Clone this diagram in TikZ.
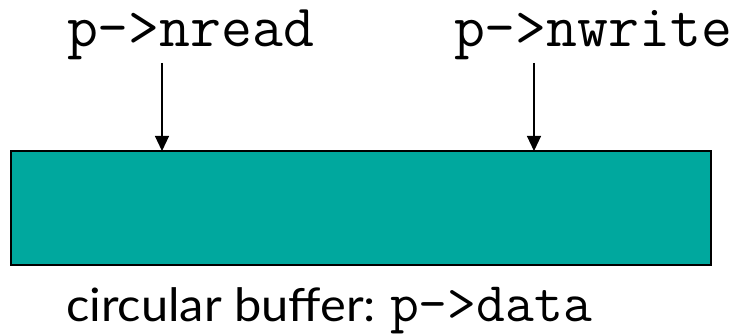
\documentclass[tikz,border=0pt]{standalone}
\usepackage{fontspec}
\setmainfont{Lato}
\usetikzlibrary{arrows.meta}
\definecolor{buffill}{RGB}{0,168,158}
\tikzset{
  lbl/.style={inner sep=0pt, outer sep=0pt, anchor=base west},
  ptr/.style={line width=1.2pt, -{Triangle[length=15pt,width=14pt]}},
  bufbox/.style={draw=black, line width=1.6pt, fill=buffill}
}
\begin{document}
\begin{tikzpicture}[x=1pt,y=-1pt]
  \useasboundingbox (0,0) rectangle (747,336);
  % circular buffer
  \draw[bufbox] (11,151) rectangle (711,265);
  \coordinate (rd) at (162,151);
  \coordinate (wr) at (534,151);
  % pointer labels
  \node[lbl, font=\ttfamily\fontsize{60}{66}\selectfont] (nread) at (67,47) {p->nread};
  \node[lbl, font=\ttfamily\fontsize{60}{66}\selectfont] (nwrite) at (454,47) {p->nwrite};
  \coordinate (rdtop) at (162,63);
  \coordinate (wrtop) at (534,63);
  \draw[ptr] (rdtop) -- (rd);
  \draw[ptr] (wrtop) -- (wr);
  % caption
  \node[lbl, font=\fontsize{46}{52}\selectfont] (cap) at (66,322) {\scalebox{1.06}[1]{circular buffer:}};
  \node[lbl, font=\ttfamily\fontsize{56}{62}\selectfont] (capcode) at (390,322) {p->data};
\end{tikzpicture}
\end{document}
